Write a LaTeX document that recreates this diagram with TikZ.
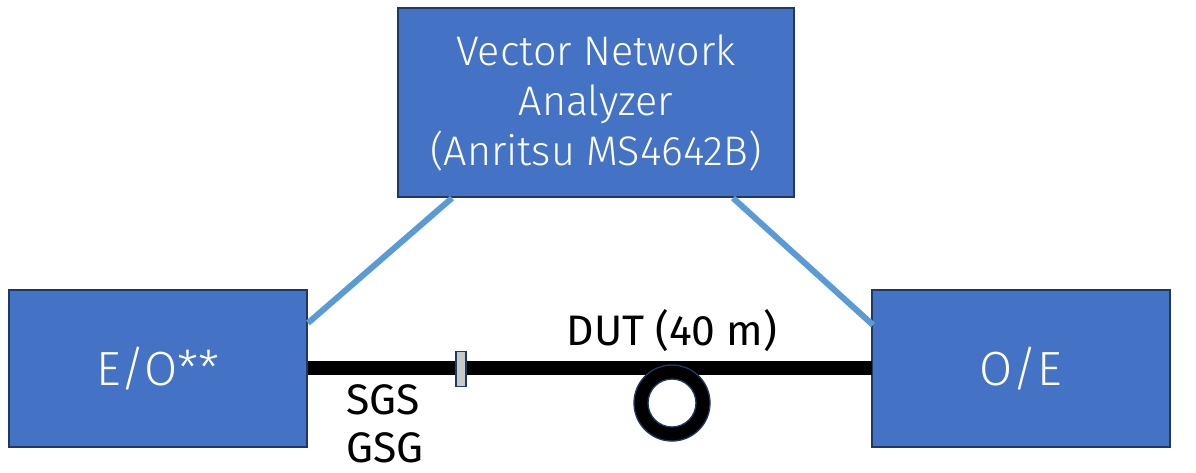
\documentclass[tikz,border=0pt]{standalone}
\usepackage{fontspec}
\setmainfont{Fira Sans Light}
\newfontfamily\blackfont{Fira Sans}
\definecolor{boxfill}{HTML}{4472C4}
\definecolor{boxedge}{HTML}{203864}
\definecolor{cable}{HTML}{5B9BD5}
\definecolor{conn}{HTML}{C8C8C8}
\begin{document}
\begin{tikzpicture}[x=0.75pt,y=-0.75pt,
  blk/.style={draw=boxedge,line width=1.5pt,fill=boxfill,text=white,inner sep=0pt},
  rfline/.style={draw=cable,line width=4.5pt},
  fiber/.style={draw=black,line width=10.5pt},
  lbl/.style={font=\blackfont\fontsize{32}{38}\selectfont,text=black}]
\useasboundingbox (0,0) rectangle (1196,472);
\node[blk,minimum width=298*0.75pt,minimum height=157*0.75pt,font=\fontsize{36}{42}\selectfont] (eo) at (158,368.5) {E/O**};
\node[blk,minimum width=298*0.75pt,minimum height=157*0.75pt,font=\fontsize{36}{42}\selectfont] (oe) at (1021,368.5) {O/E};
\node[blk,minimum width=396*0.75pt,minimum height=189*0.75pt,align=center,font=\fontsize{31}{37.5}\selectfont] (vna) at (596,102.5) {Vector Network\\Analyzer\\(Anritsu MS4642B)};
\coordinate (va) at (452,198);
\coordinate (vb) at (733,198);
\coordinate (ea) at (308,323);
\coordinate (ob) at (873,325);
\draw[rfline] (va) -- (ea);
\draw[rfline] (vb) -- (ob);
\coordinate (fa) at (308,368);
\coordinate (fb) at (872,368);
\draw[fiber] (fa) -- (fb);
\node[draw=boxedge,line width=1pt,fill=conn,minimum width=10*0.75pt,minimum height=35*0.75pt,inner sep=0pt] (cn) at (461,369) {};
\node[circle,draw=boxedge,line width=1pt,minimum size=76*0.75pt,fill=black,inner sep=0pt] (coil) at (672,403) {};
\node[circle,draw=boxedge,line width=1pt,minimum size=48*0.75pt,fill=white,inner sep=0pt] (coilin) at (672,403) {};
\node[lbl,anchor=base] (dut) at (672,345) {DUT (40 m)};
\node[lbl,anchor=base west] (sgs) at (342,414) {SGS};
\node[lbl,anchor=base west] (gsg) at (342,462) {GSG};
\end{tikzpicture}
\end{document}
